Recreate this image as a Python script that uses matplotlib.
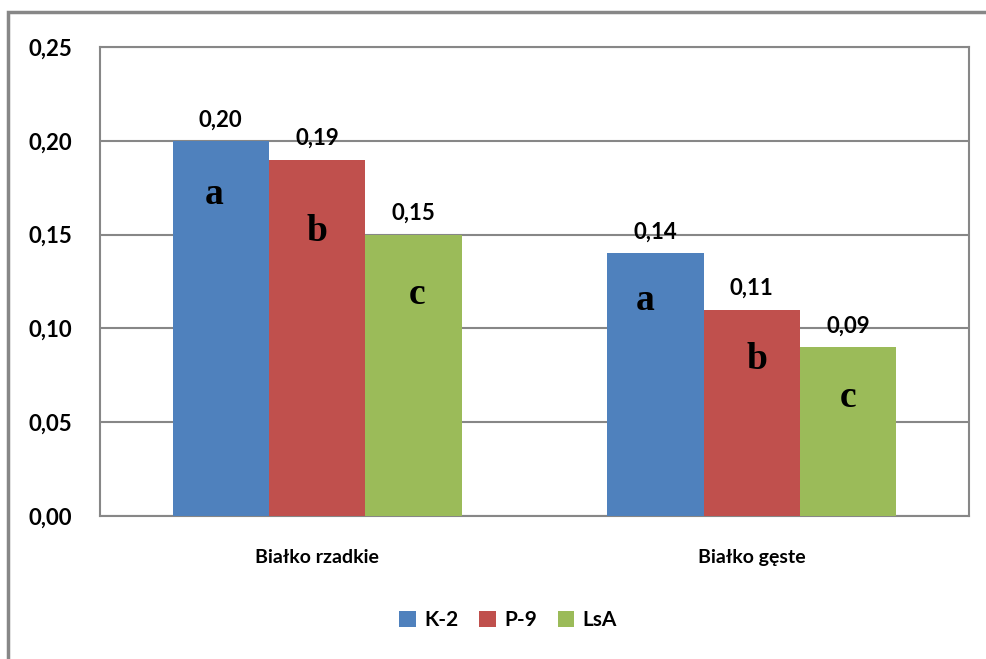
import numpy as np
import matplotlib.pyplot as plt
from matplotlib.patches import Rectangle
from matplotlib.ticker import FuncFormatter

categories = ['Białko rzadkie', 'Białko gęste']
series = ['K-2', 'P-9', 'LsA']
k2 = [0.20, 0.14]
p9 = [0.19, 0.11]
lsa = [0.15, 0.09]
groups_letters = [['a', 'a'], ['b', 'b'], ['c', 'c']]

colors = ['#4F81BD', '#C0504D', '#9BBB59']
grid_col = '#878787'
# how far (px) each letter sits below the top of its bar
letter_drop = [[54, 47], [72, 50], [60, 50]]
letter_dx = [[-7, -10], [0, 5], [3, 0]]

plt.rcParams['font.family'] = ['Lato', 'DejaVu Sans']

fig = plt.figure(figsize=(9.86, 6.59), dpi=100)
ax = fig.add_axes([100 / 986, 1 - 516 / 659, 869 / 986, 469 / 659])

x = np.arange(len(categories))
w = 0.222
for i, (vals, name) in enumerate(zip([k2, p9, lsa], series)):
    xs = x + (i - 1) * w
    ax.bar(xs, vals, w, color=colors[i], label=name, zorder=3)
    for j, v in enumerate(vals):
        ax.annotate(f'{v:.2f}'.replace('.', ','), (xs[j], v), xytext=(0, 21),
                    textcoords='offset pixels', ha='center', va='center',
                    fontsize=16, fontweight='bold', zorder=4)
        ax.annotate(groups_letters[i][j], (xs[j], v),
                    xytext=(letter_dx[i][j], -letter_drop[i][j]),
                    textcoords='offset pixels', ha='center', va='center',
                    fontsize=27, fontweight='bold', family='Liberation Serif',
                    zorder=4)

ax.set_xlim(-0.5, 1.5)
ax.set_ylim(0, 0.25)
ax.set_yticks(np.arange(0, 0.26, 0.05))
ax.yaxis.set_major_formatter(FuncFormatter(lambda v, p: f'{v:.2f}'.replace('.', ',')))
ax.set_xticks(x)
ax.set_xticklabels(categories)
ax.tick_params(axis='y', length=0, pad=20, labelsize=16)
ax.tick_params(axis='x', length=0, pad=24, labelsize=14)
for lab in ax.get_xticklabels() + ax.get_yticklabels():
    lab.set_fontweight('bold')
ax.grid(axis='y', color=grid_col, linewidth=1.5, zorder=0)
for s in ax.spines.values():
    s.set_color(grid_col)
    s.set_linewidth(1.5)

leg = fig.legend(loc='center', bbox_to_anchor=(508 / 986, 1 - 620 / 659), ncol=3,
                 frameon=False, handlelength=0.8, handleheight=0.8,
                 handletextpad=0.4, columnspacing=1.0,
                 prop={'size': 15, 'weight': 'bold'})

# outer chart frame
fig.patches.append(Rectangle((8 / 986, -0.05), 1.1, 1 - 12 / 659 + 0.05,
                             transform=fig.transFigure, fill=False,
                             edgecolor=grid_col, linewidth=2.5))

fig.savefig('out.png', dpi=100)
